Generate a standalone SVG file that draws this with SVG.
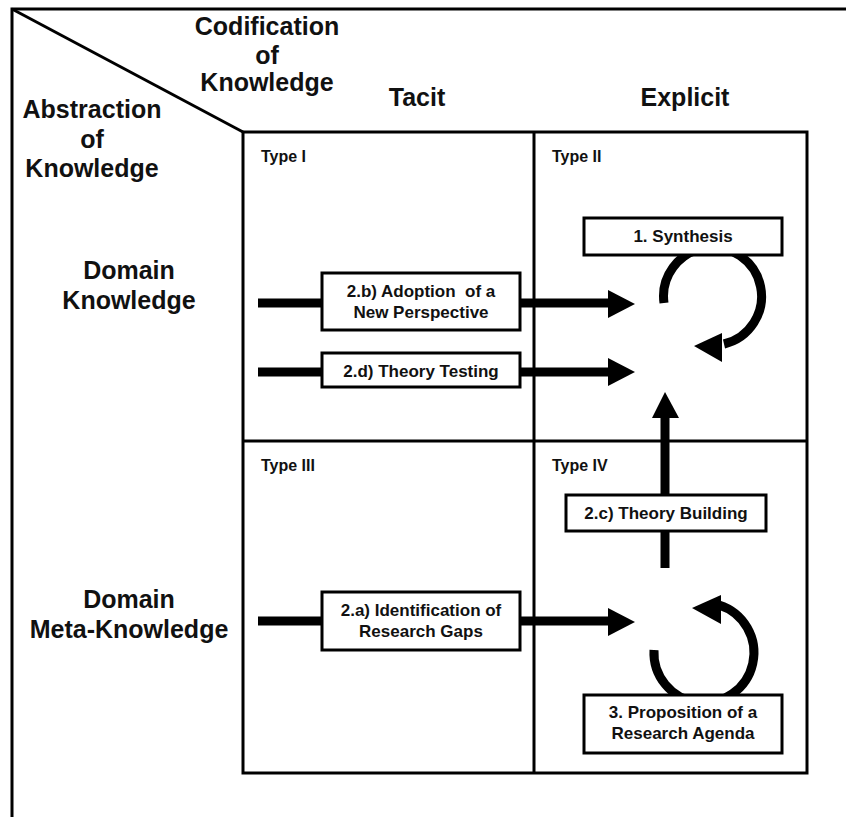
<svg xmlns="http://www.w3.org/2000/svg" width="846" height="817" viewBox="0 0 846 817">
<style>
text{font-family:"Liberation Sans",Arial,sans-serif;font-weight:bold;fill:#111;white-space:pre}
.h{font-size:25px;text-anchor:middle}
.t{font-size:16px}
.b{font-size:17px;text-anchor:middle}
.frame{fill:none;stroke:#000;stroke-width:3}
.box{fill:#fff;stroke:#000;stroke-width:3}
.conn{fill:none;stroke:#000;stroke-width:9}
</style>
<rect width="846" height="817" fill="#fff"/>
<g id="frame">
<path class="frame" d="M12 817 V9 H846"/>
<line class="frame" x1="12" y1="9" x2="243" y2="132"/>
<rect class="frame" x="243" y="132" width="564" height="641"/>
<line class="frame" x1="534" y1="132" x2="534" y2="773"/>
<line class="frame" x1="243" y1="441" x2="807" y2="441"/>
</g>
<g id="headers">
<text class="h" x="267" y="35">Codification</text>
<text class="h" x="267" y="64">of</text>
<text class="h" x="267" y="91">Knowledge</text>
<text class="h" x="92" y="118">Abstraction</text>
<text class="h" x="92" y="148">of</text>
<text class="h" x="92" y="177">Knowledge</text>
<text class="h" x="417" y="106">Tacit</text>
<text class="h" x="685" y="106">Explicit</text>
<text class="h" x="129" y="279">Domain</text>
<text class="h" x="129" y="309">Knowledge</text>
<text class="h" x="129" y="608">Domain</text>
<text class="h" x="129" y="638">Meta-Knowledge</text>
<text class="t" x="261" y="162">Type I</text>
<text class="t" x="552" y="162">Type II</text>
<text class="t" x="261" y="471">Type III</text>
<text class="t" x="552" y="471">Type IV</text>
</g>
<g id="connectors">
<line class="conn" x1="258" y1="303" x2="610" y2="303"/>
<polygon points="635,304 608,290 608,318"/>
<line class="conn" x1="258" y1="372" x2="610" y2="372"/>
<polygon points="635,372 608,358 608,386"/>
<line class="conn" x1="258" y1="621" x2="610" y2="621"/>
<polygon points="635,622 608,608 608,636"/>
<line class="conn" x1="665" y1="568" x2="665" y2="416"/>
<polygon points="665,392 652,418 679,418"/>
<path class="conn" d="M664 303 A49 49 0 1 1 724 344"/>
<polygon points="694,346 722,333 722,362"/>
<path class="conn" d="M654 650 A50 50 0 1 0 719 605"/>
<polygon points="692,608 721,595 721,624"/>
</g>
<g id="synthesis">
<rect class="box" x="584" y="218" width="198" height="37"/>
<text class="b" x="683" y="242">1. Synthesis</text>
</g>
<g id="adoption">
<rect class="box" x="322" y="273" width="198" height="57"/>
<text class="b" x="421" y="297">2.b) Adoption  of a</text>
<text class="b" x="421" y="318">New Perspective</text>
</g>
<g id="testing">
<rect class="box" x="322" y="353" width="198" height="34"/>
<text class="b" x="421" y="377">2.d) Theory Testing</text>
</g>
<g id="gaps">
<rect class="box" x="322" y="592" width="198" height="58"/>
<text class="b" x="421" y="616">2.a) Identification of</text>
<text class="b" x="421" y="637">Research Gaps</text>
</g>
<g id="building">
<rect class="box" x="566" y="495" width="200" height="36"/>
<text class="b" x="666" y="519">2.c) Theory Building</text>
</g>
<g id="agenda">
<rect class="box" x="584" y="695" width="198" height="58"/>
<text class="b" x="683" y="718">3. Proposition of a</text>
<text class="b" x="683" y="739">Research Agenda</text>
</g>
</svg>
